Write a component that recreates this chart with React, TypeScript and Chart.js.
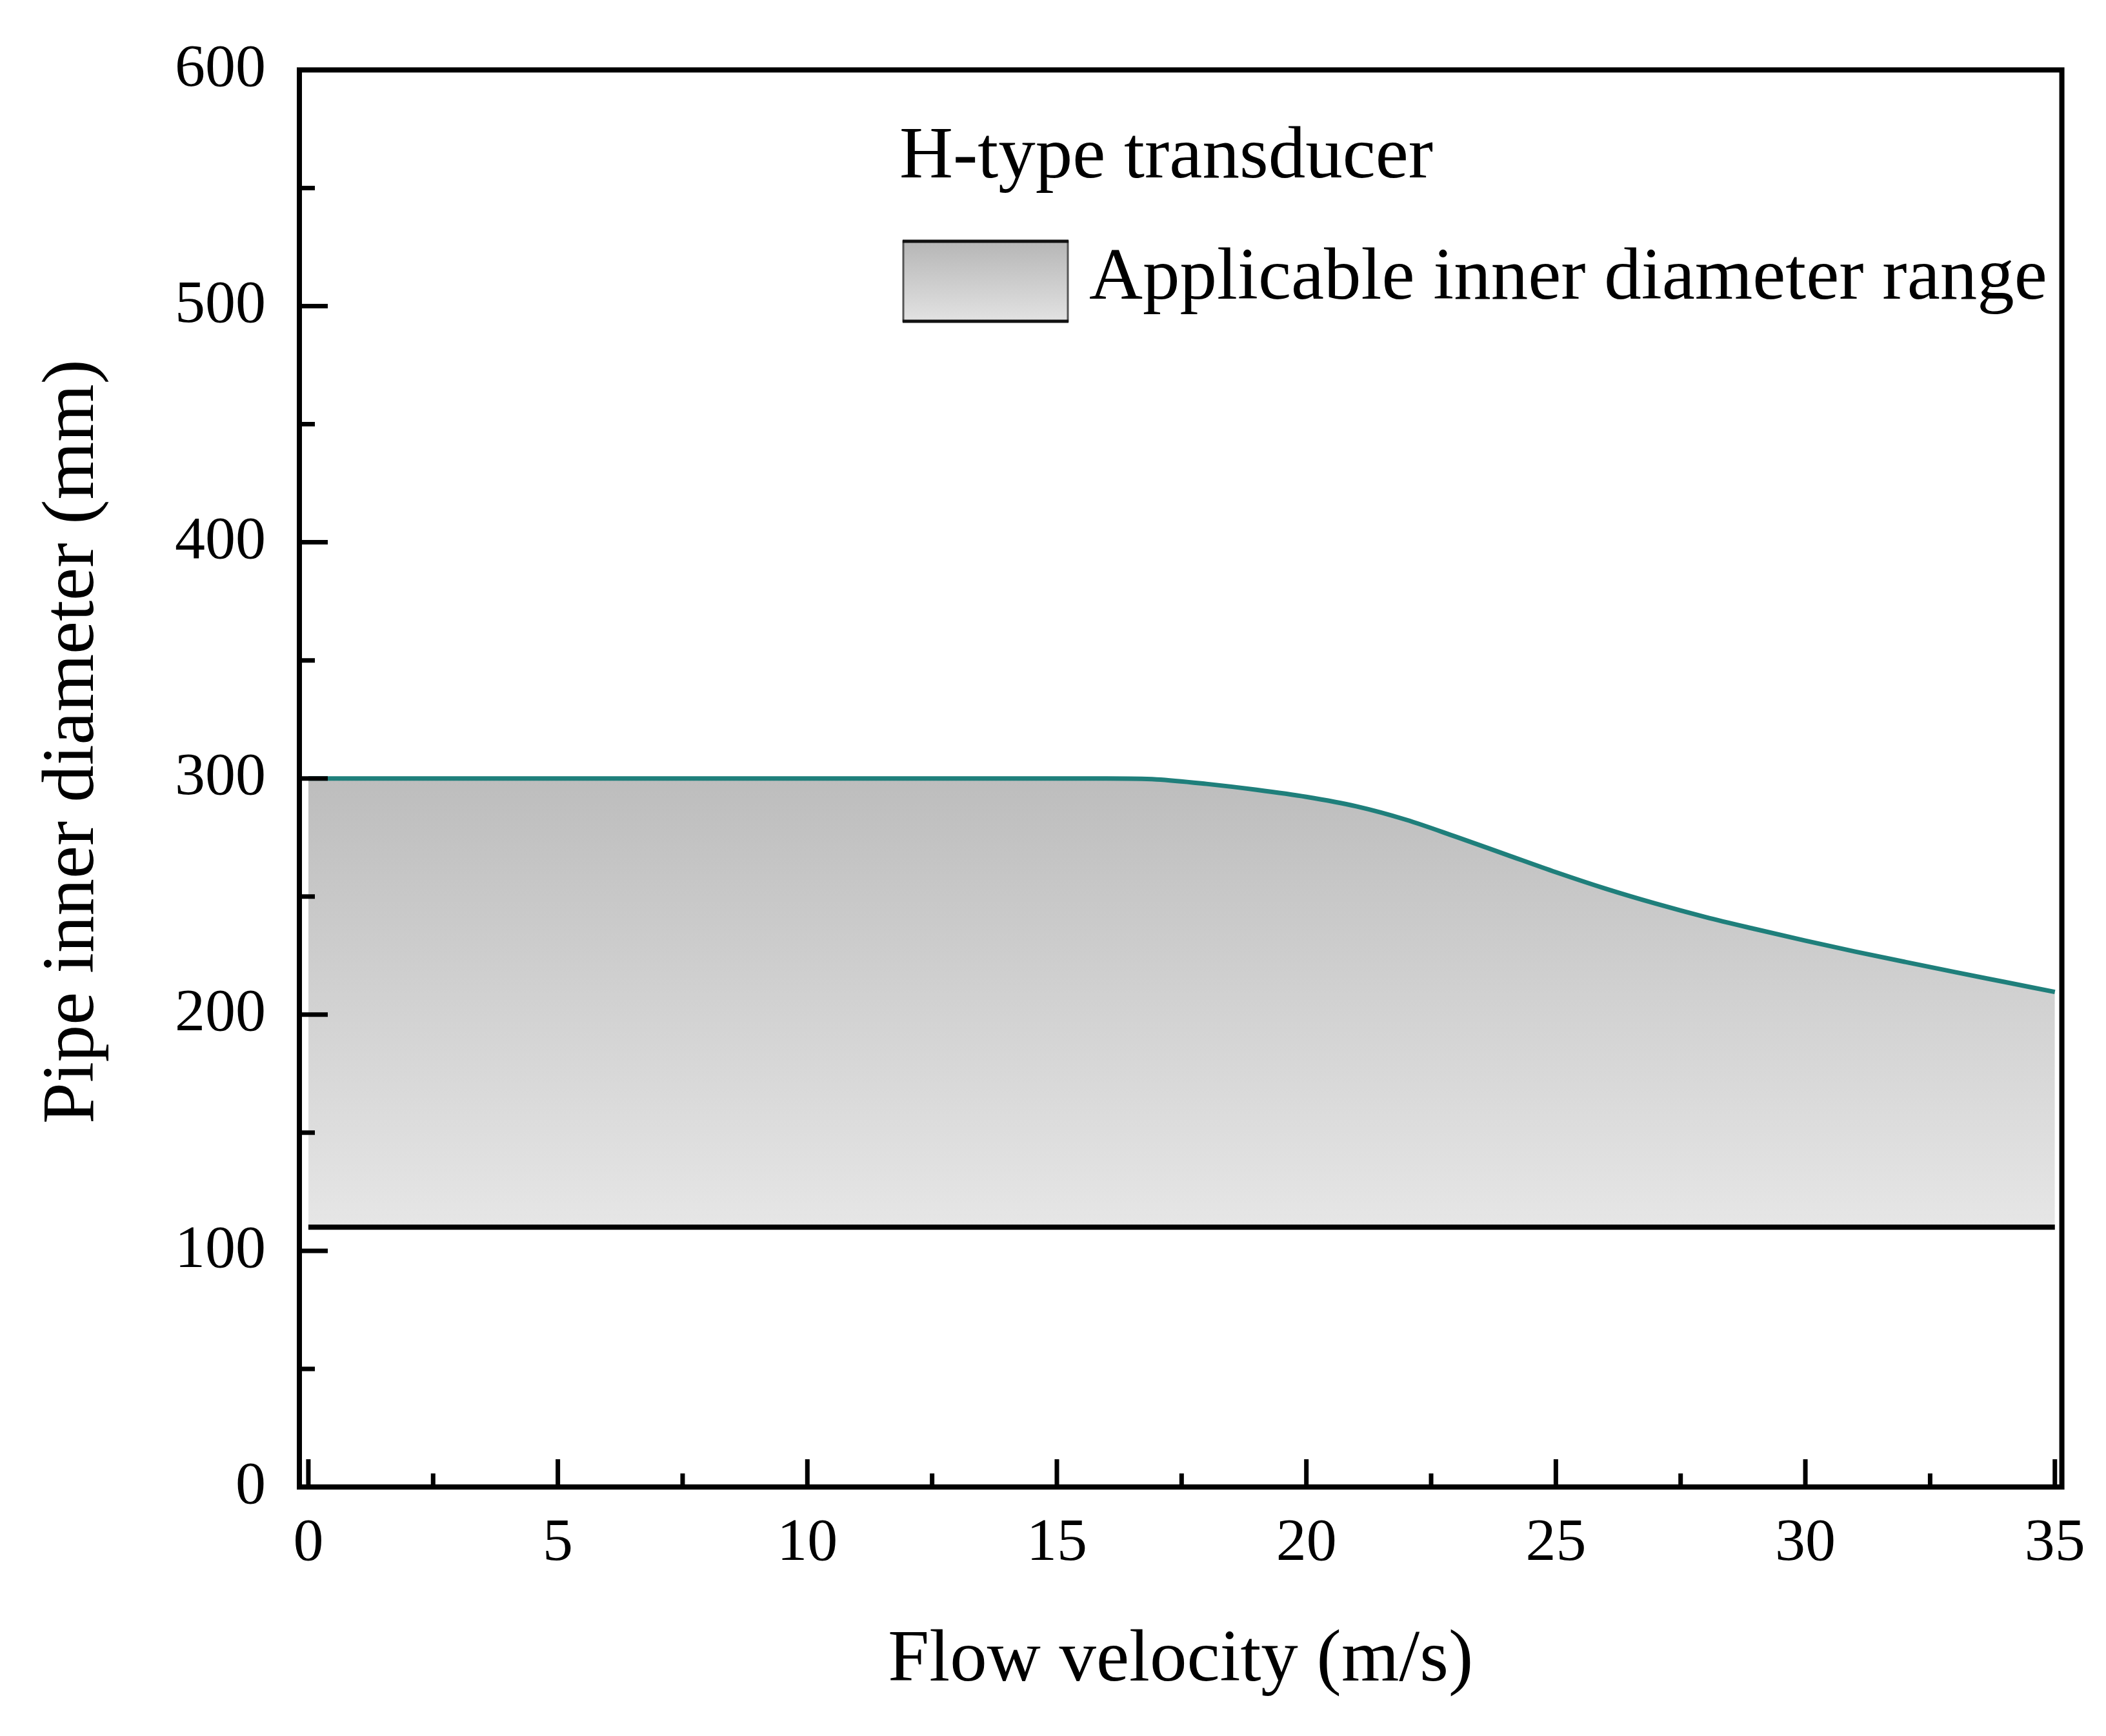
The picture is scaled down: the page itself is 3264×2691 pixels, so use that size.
import React, { useEffect, useRef } from 'react'
import { Chart, registerables, type Plugin } from 'chart.js'

// upper limit curve (flow velocity m/s -> max inner diameter mm)
const velocity = [0, 5, 10, 15, 16, 17, 18, 19, 20, 21, 22, 23, 24, 25, 26, 27, 28, 29, 30, 31, 32, 33, 34, 35]
const maxDiameter = [300, 300, 300, 300, 300, 299.6, 297.7, 295.2, 292.2, 288.2, 282.5, 275.3, 267.8, 260.3, 253.3, 247, 241.3, 236.2, 231.3, 226.7, 222.3, 218, 213.8, 209.6]

// lower limit line
const minVelocity = [0, 35]
const minDiameter = [110, 110]

const yTickValues = [0, 100, 200, 300, 400, 500, 600]
const xTickValues = [0, 5, 10, 15, 20, 25, 30, 35]

const legendTitle = 'H-type transducer'
const legendLabel = 'Applicable inner diameter range'
const xTitle = 'Flow velocity (m/s)'
const yTitle = 'Pipe inner diameter (mm)'

const FONT = '"Liberation Serif", "Times New Roman", serif'
const TEAL = '#1f7f7b'

const frameAndTicks: Plugin = {
  id: 'frameAndTicks',
  afterDatasetsDraw(chart) {
    const { ctx, chartArea: a, scales } = chart
    const x = scales.x
    const y = scales.y
    ctx.save()

    // frame
    ctx.strokeStyle = '#000'
    ctx.lineWidth = 8
    ctx.strokeRect(a.left, a.top, a.right - a.left, a.bottom - a.top)

    // inward ticks, major + minor
    ctx.lineWidth = 7
    ctx.beginPath()
    for (let i = 0; i < yTickValues.length; i++) {
      const v = yTickValues[i]
      const py = y.getPixelForValue(v)
      ctx.moveTo(a.left, py)
      ctx.lineTo(a.left + 44, py)
      if (i < yTickValues.length - 1) {
        const pm = y.getPixelForValue((v + yTickValues[i + 1]) / 2)
        ctx.moveTo(a.left, pm)
        ctx.lineTo(a.left + 24, pm)
      }
    }
    for (let i = 0; i < xTickValues.length; i++) {
      const v = xTickValues[i]
      const px = x.getPixelForValue(v)
      ctx.moveTo(px, a.bottom)
      ctx.lineTo(px, a.bottom - 43)
      if (i < xTickValues.length - 1) {
        const pm = x.getPixelForValue((v + xTickValues[i + 1]) / 2)
        ctx.moveTo(pm, a.bottom)
        ctx.lineTo(pm, a.bottom - 21)
      }
    }
    ctx.stroke()

    // y axis title
    ctx.fillStyle = '#000'
    ctx.font = `115px ${FONT}`
    ctx.textAlign = 'center'
    ctx.textBaseline = 'middle'
    ctx.save()
    ctx.translate(114, (a.top + a.bottom) / 2 - 57)
    ctx.rotate(-Math.PI / 2)
    ctx.fillText(yTitle, 0, 0)
    ctx.restore()

    // legend
    ctx.textAlign = 'left'
    ctx.textBaseline = 'alphabetic'
    ctx.fillText(legendTitle, 1394, 275)
    const bx = 1400
    const by = 374
    const bw = 255
    const bh = 124
    const g = ctx.createLinearGradient(0, by, 0, by + bh)
    g.addColorStop(0, '#b6b6b6')
    g.addColorStop(1, '#e2e2e2')
    ctx.fillStyle = g
    ctx.fillRect(bx, by, bw, bh)
    ctx.strokeStyle = '#555'
    ctx.lineWidth = 3
    ctx.strokeRect(bx, by, bw, bh)
    ctx.strokeStyle = '#111'
    ctx.lineWidth = 5
    ctx.beginPath()
    ctx.moveTo(bx - 1, by)
    ctx.lineTo(bx + bw + 1, by)
    ctx.moveTo(bx - 1, by + bh)
    ctx.lineTo(bx + bw + 1, by + bh)
    ctx.stroke()
    ctx.fillStyle = '#000'
    ctx.fillText(legendLabel, 1688, 463)

    ctx.restore()
  }
}

const App: React.FC = () => {
  const canvasRef = useRef<HTMLCanvasElement | null>(null)
  const chartRef = useRef<Chart | null>(null)

  useEffect(() => {
    Chart.register(...registerables)
    if (canvasRef.current === null) return
    if (chartRef.current !== null) chartRef.current.destroy()

    chartRef.current = new Chart(canvasRef.current, {
      type: 'line',
      data: {
        datasets: [
          {
            label: 'upper',
            data: velocity.map((v, i) => ({ x: v, y: maxDiameter[i] })),
            borderColor: TEAL,
            borderWidth: 7,
            pointRadius: 0,
            cubicInterpolationMode: 'monotone',
            fill: 1,
            backgroundColor: (c: any) => {
              const { chart } = c
              if (!chart.chartArea) return '#cccccc'
              const ys = chart.scales.y
              const gr = chart.ctx.createLinearGradient(0, ys.getPixelForValue(300), 0, ys.getPixelForValue(110))
              gr.addColorStop(0, '#bdbdbd')
              gr.addColorStop(1, '#e6e6e6')
              return gr
            }
          },
          {
            label: 'lower',
            data: minVelocity.map((v, i) => ({ x: v, y: minDiameter[i] })),
            borderColor: '#000',
            borderWidth: 8,
            pointRadius: 0,
            fill: false
          }
        ]
      },
      options: {
        responsive: true,
        maintainAspectRatio: false,
        animation: false,
        layout: { padding: { top: 97, right: 61, left: 0, bottom: 0 } },
        plugins: {
          legend: { display: false },
          tooltip: { enabled: false },
          filler: { drawTime: 'beforeDatasetsDraw' }
        },
        scales: {
          x: {
            type: 'linear',
            min: -0.18,
            max: 35.14,
            grid: { display: false, drawTicks: false },
            border: { display: false },
            ticks: {
              stepSize: 5,
              includeBounds: false,
              padding: 32,
              color: '#000',
              maxRotation: 0,
              font: { family: FONT, size: 94 }
            },
            title: {
              display: true,
              text: xTitle,
              color: '#000',
              font: { family: FONT, size: 115 },
              padding: { top: 0, bottom: 47 }
            },
            afterFit: (s) => { s.height = 386 }
          },
          y: {
            type: 'linear',
            min: 0,
            max: 600,
            grid: { display: false, drawTicks: false },
            border: { display: false },
            ticks: {
              stepSize: 100,
              padding: 52,
              color: '#000',
              font: { family: FONT, size: 94 }
            },
            afterFit: (s) => { s.width = 464 }
          }
        }
      },
      plugins: [frameAndTicks]
    })

    return () => {
      if (chartRef.current !== null) {
        chartRef.current.destroy()
        chartRef.current = null
      }
    }
  }, [])

  return (
    <div style={{ position: 'fixed', left: 0, top: 0, width: 3264, height: 2691, background: '#fff' }}>
      <canvas ref={canvasRef} />
    </div>
  )
}

export default App
